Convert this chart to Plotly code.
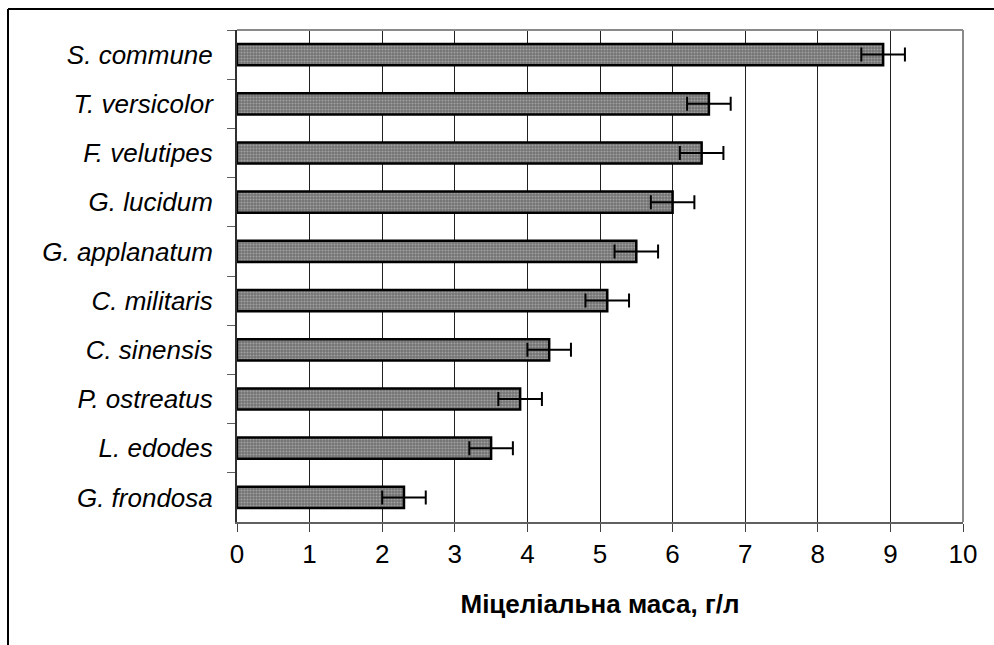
import plotly.graph_objects as go

# Species (top to bottom) and mycelial biomass, g/l, with error margins
species = ["S. commune", "T. versicolor", "F. velutipes", "G. lucidum", "G. applanatum",
           "C. militaris", "C. sinensis", "P. ostreatus", "L. edodes", "G. frondosa"]
biomass = [8.9, 6.5, 6.4, 6.0, 5.5, 5.1, 4.3, 3.9, 3.5, 2.3]
errors = [0.3, 0.3, 0.3, 0.3, 0.3, 0.3, 0.3, 0.3, 0.3, 0.3]
x_ticks = [0, 1, 2, 3, 4, 5, 6, 7, 8, 9, 10]
x_title = "Міцеліальна маса, г/л"

FONT = "Arial, Liberation Sans, sans-serif"

fig = go.Figure(go.Bar(
    y=species,
    x=biomass,
    orientation="h",
    width=0.43,
    marker=dict(
        color="#8c8c8c",
        line=dict(color="black", width=2.5),
        pattern=dict(shape=".", fgcolor="#d0d0d0", bgcolor="#727272",
                     size=3, solidity=0.4),
    ),
    error_x=dict(type="data", array=errors, visible=True,
                 color="black", thickness=2, width=7),
))

fig.update_layout(
    width=994, height=645,
    margin=dict(l=237, r=31, t=30, b=123),
    paper_bgcolor="white", plot_bgcolor="white",
    showlegend=False,
    font=dict(family=FONT, size=26, color="black"),
    xaxis=dict(
        range=[0, 10], tickvals=x_ticks, ticks="outside", ticklen=8,
        tickcolor="#404040", tickwidth=1,
        showgrid=True, gridcolor="#202020", gridwidth=1,
        showline=True, linecolor="#606060", linewidth=2,
        zeroline=False,
        tickfont=dict(size=26, family=FONT),
        title=dict(text="<b>" + x_title + "</b>", font=dict(size=26, family=FONT),
                   standoff=27),
    ),
    yaxis=dict(
        type="category", autorange="reversed",
        tickson="boundaries", ticks="outside", ticklen=8,
        tickcolor="#606060", tickwidth=1,
        showgrid=False,
        showline=True, linecolor="#303030", linewidth=2,
        tickfont=dict(size=26, family=FONT, style="italic"),
        ticklabelstandoff=17,
    ),
    shapes=[
        # plot frame, top and right
        dict(type="line", xref="paper", yref="paper", x0=0, x1=1, y0=1, y1=1,
             line=dict(color="#8a8a8a", width=2)),
        dict(type="line", xref="paper", yref="paper", x0=1, x1=1, y0=0, y1=1,
             line=dict(color="#8a8a8a", width=2)),
        # outer chart border, top and left
        dict(type="line", xref="paper", yref="paper",
             x0=-229 / 726, x1=757 / 726, y0=1 + 21 / 492, y1=1 + 21 / 492,
             line=dict(color="black", width=2)),
        dict(type="line", xref="paper", yref="paper",
             x0=-229 / 726, x1=-229 / 726, y0=-123 / 492, y1=1 + 21 / 492,
             line=dict(color="black", width=2)),
    ],
)

fig.write_html("out.html")
